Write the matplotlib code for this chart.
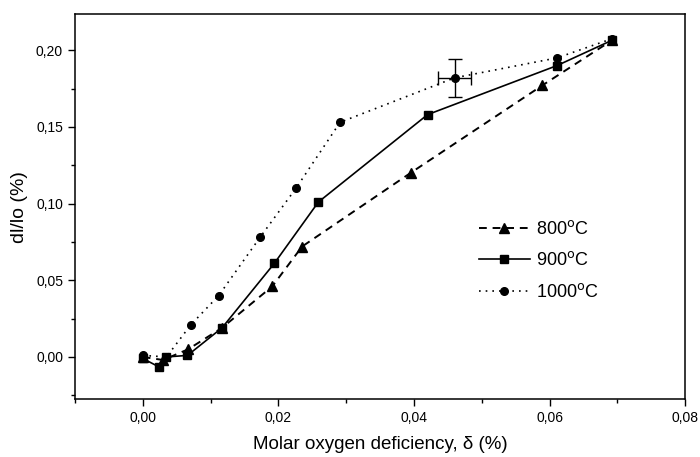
import matplotlib
matplotlib.use('Agg')
import matplotlib.pyplot as plt
from matplotlib.ticker import MultipleLocator, FuncFormatter

# data (delta in %, dl/lo in %)
x_800 = [0.0000, 0.0030, 0.0067, 0.0117, 0.0191, 0.0235, 0.0395, 0.0589, 0.0692]
y_800 = [0.000, -0.002, 0.005, 0.019, 0.046, 0.072, 0.120, 0.177, 0.2065]

x_900 = [0.0000, 0.0024, 0.0035, 0.0066, 0.0117, 0.0194, 0.0259, 0.0420, 0.0611, 0.0692]
y_900 = [-0.001, -0.0065, 0.000, 0.001, 0.019, 0.061, 0.101, 0.158, 0.190, 0.2065]

x_1000 = [0.0000, 0.0035, 0.0071, 0.0112, 0.0173, 0.0226, 0.0291, 0.0460, 0.0611, 0.0692]
y_1000 = [0.001, 0.000, 0.021, 0.040, 0.078, 0.110, 0.153, 0.182, 0.195, 0.2075]

# error bar on one 1000C point
err_x, err_y = 0.0460, 0.182
err_dx, err_dy = 0.0024, 0.0124

labels = ['800$^{\\rm o}$C', '900$^{\\rm o}$C', '1000$^{\\rm o}$C']

plt.rcParams['font.family'] = ['Liberation Sans', 'DejaVu Sans']
plt.rcParams['mathtext.default'] = 'regular'

fig = plt.figure(figsize=(7, 4.57), dpi=100)
ax = fig.add_axes([0.107, 0.127, 0.872, 0.842])

ax.plot(x_800, y_800, color='black', linestyle=(0, (4, 3)), linewidth=1.4,
        marker='^', markersize=6.5, label=labels[0])
ax.plot(x_900, y_900, color='black', linestyle='-', linewidth=1.2,
        marker='s', markersize=5.5, label=labels[1])
ax.plot(x_1000, y_1000, color='black', linestyle=(0, (1, 3)), linewidth=1.2,
        marker='o', markersize=5.5, label=labels[2])
ax.errorbar([err_x], [err_y], xerr=[err_dx], yerr=[err_dy], fmt='none',
            ecolor='black', elinewidth=1.0, capsize=5, capthick=1.0)

ax.set_xlim(-0.01, 0.08)
ax.set_ylim(-0.0274, 0.2235)
ax.xaxis.set_major_locator(MultipleLocator(0.02))
ax.xaxis.set_minor_locator(MultipleLocator(0.01))
ax.yaxis.set_major_locator(MultipleLocator(0.05))
ax.yaxis.set_minor_locator(MultipleLocator(0.025))
comma = FuncFormatter(lambda v, p: f"{v:.2f}".replace('.', ','))
ax.xaxis.set_major_formatter(comma)
ax.yaxis.set_major_formatter(comma)
ax.tick_params(which='major', direction='out', length=5, width=1, labelsize=10)
ax.tick_params(which='minor', direction='out', length=3, width=1)
ax.tick_params(top=False, right=False)
for s in ax.spines.values():
    s.set_linewidth(1.1)

ax.set_xlabel('Molar oxygen deficiency, δ (%)', fontsize=13.5, labelpad=8)
ax.set_ylabel('dl/lo (%)', fontsize=14, labelpad=6)

ax.legend(loc='center left', bbox_to_anchor=(0.635, 0.36), frameon=False,
          fontsize=13, handlelength=2.85, handletextpad=0.3, labelspacing=0.75)

fig.savefig('out.png', dpi=100)
